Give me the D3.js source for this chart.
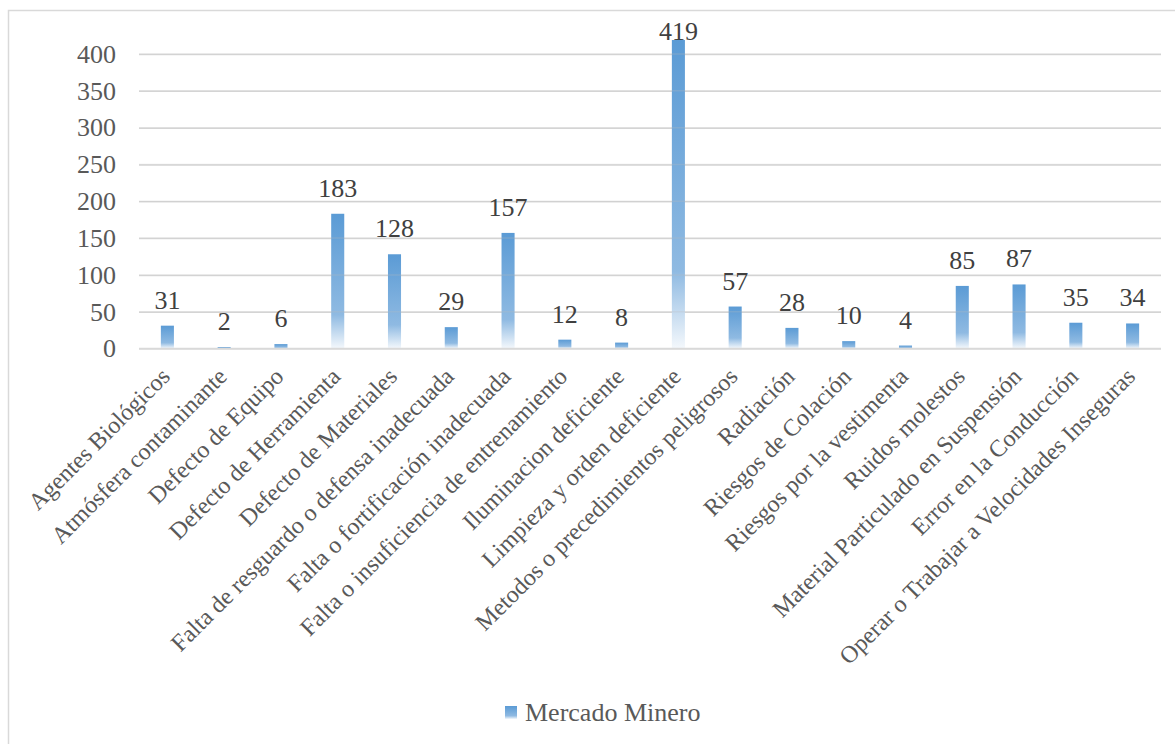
<!DOCTYPE html>
<html><head><meta charset="utf-8">
<script src="https://cdn.jsdelivr.net/npm/d3@7"></script>
<style>html,body{margin:0;padding:0;background:#fff;}</style>
</head><body>
<script>
const categories = ["Agentes Biológicos","Atmósfera contaminante","Defecto de Equipo","Defecto de Herramienta","Defecto de Materiales","Falta de resguardo o defensa inadecuada","Falta o fortificación inadecuada","Falta o insuficiencia de entrenamiento","Iluminacion deficiente","Limpieza y orden deficiente","Metodos o precedimientos peligrosos","Radiación","Riesgos de Colación","Riesgos por la vestimenta","Ruidos molestos","Material Particulado en Suspensión","Error en la Conducción","Operar o Trabajar a Velocidades Inseguras"];
const values = [31,2,6,183,128,29,157,12,8,419,57,28,10,4,85,87,35,34];
const yTicks = [0,50,100,150,200,250,300,350,400];
const seriesName = "Mercado Minero";

const W = 1175, H = 744;
const FONT = '"Liberation Serif"';
const textColor = "#595959";
const svg = d3.select("body").append("svg").attr("width", W).attr("height", H);

const defs = svg.append("defs");
const grad = defs.append("linearGradient").attr("id","barGrad").attr("x1",0).attr("y1",0).attr("x2",0).attr("y2",1);
grad.append("stop").attr("offset","0%").attr("stop-color","#5b9bd5");
grad.append("stop").attr("offset","75%").attr("stop-color","#8fbae2");
grad.append("stop").attr("offset","100%").attr("stop-color","#f4f8fc");

svg.append("rect").attr("x",8.5).attr("y",10.5).attr("width",W+20).attr("height",H+20)
  .attr("fill","none").attr("stroke","#d9d9d9").attr("stroke-width",1.5);

const x = d3.scaleBand().domain(categories).range([139, 1161]).paddingInner(0.77).paddingOuter(0.385);
const y = d3.scaleLinear().domain([0, 400]).range([348.5, 54]);

const yAxis = d3.axisLeft(y).tickValues(yTicks).tickSize(-(1161-139)).tickPadding(23);
const gy = svg.append("g").attr("transform","translate(139,0)").call(yAxis);
gy.select(".domain").remove();
gy.selectAll(".tick line").attr("stroke","#d9d9d9").attr("stroke-width",1.5);
gy.selectAll(".tick text").style("font-family",FONT).style("font-size","26px").attr("fill",textColor);

svg.append("g").selectAll("rect").data(values).join("rect")
  .attr("x",(d,i)=>x(categories[i]))
  .attr("y",d=>y(d))
  .attr("width",x.bandwidth())
  .attr("height",d=>y(0)-y(d))
  .attr("fill","url(#barGrad)");

svg.append("g").selectAll("line").data(yTicks.filter(t=>t>0)).join("line")
  .attr("x1",139).attr("x2",1161).attr("y1",d=>y(d)).attr("y2",d=>y(d))
  .attr("stroke","#bbbbbb").attr("stroke-opacity",0.25).attr("stroke-width",1.5);

svg.append("line").attr("x1",139).attr("x2",1161).attr("y1",y(0)).attr("y2",y(0))
  .attr("stroke","#d9d9d9").attr("stroke-width",1.5);

svg.append("g").selectAll("text").data(values).join("text")
  .attr("x",(d,i)=>x(categories[i])+x.bandwidth()/2)
  .attr("y",d=>Math.max(y(d)-17, 40))
  .attr("text-anchor","middle")
  .style("font-family",FONT).style("font-size","26px").attr("fill","#404040")
  .text(d=>d);

svg.append("g").selectAll("text").data(categories).join("text")
  .attr("transform",d=>`translate(${x(d)+x.bandwidth()/2+4},${378}) rotate(-45)`)
  .attr("text-anchor","end")
  .style("font-family",FONT).style("font-size","24px").attr("fill",textColor)
  .text(d=>d);

const lg = svg.append("g").attr("transform","translate(505,706)");
lg.append("rect").attr("width",12).attr("height",13).attr("fill","url(#barGrad)");
lg.append("text").attr("x",20).attr("y",15).style("font-family",FONT).style("font-size","26px")
  .attr("fill",textColor).text(seriesName);
</script>
</body></html>
